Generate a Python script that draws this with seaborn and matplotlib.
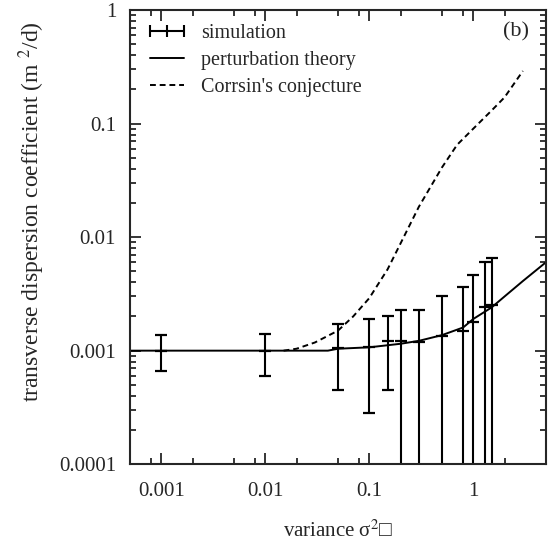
import numpy as np
import pandas as pd
import matplotlib
matplotlib.use("Agg")
import matplotlib.pyplot as plt
import matplotlib.ticker as mticker
from matplotlib.lines import Line2D
from matplotlib.legend_handler import HandlerLine2D, HandlerTuple
import seaborn as sns

# simulation results (mean and error bar ends)
sim_var = [0.001, 0.01, 0.05, 0.1, 0.15, 0.2, 0.3, 0.5, 0.8, 1.0, 1.3, 1.5]
sim_D = [0.001, 0.001, 0.00105, 0.00107, 0.00122, 0.00122, 0.0012, 0.00135, 0.00148, 0.0018, 0.0024, 0.0025]
sim_hi = [0.00137, 0.0014, 0.0017, 0.0019, 0.002, 0.0023, 0.0023, 0.003, 0.0036, 0.0046, 0.006, 0.0066]
sim_lo = [0.00066, 0.0006, 0.00045, 0.00028, 0.00045, 1e-6, 1e-6, 1e-6, 1e-6, 1e-6, 1e-6, 1e-6]

# perturbation theory
pt_var = [0.0005, 0.01, 0.04, 0.05, 0.1, 0.2, 0.3, 0.5, 0.8, 1.0, 1.5, 2.0, 3.0, 5.0]
pt_D = [0.001, 0.001, 0.001, 0.00104, 0.00107, 0.00115, 0.00122, 0.00137, 0.0016, 0.0019, 0.0024, 0.003, 0.0041, 0.006]

# Corrsin's conjecture
co_var = [0.015, 0.02, 0.03, 0.05, 0.07, 0.1, 0.15, 0.2, 0.3, 0.5, 0.7, 1.0, 1.5, 2.0, 3.0]
co_D = [0.001, 0.00104, 0.00118, 0.0015, 0.002, 0.0029, 0.0052, 0.0088, 0.0185, 0.041, 0.065, 0.09, 0.13, 0.17, 0.29]

sns.set_style("ticks")
plt.rcParams['font.family'] = ['Liberation Serif', 'DejaVu Sans']
plt.rcParams['mathtext.fontset'] = 'stix'

fig = plt.figure(figsize=(5.52, 5.52), dpi=100)
ax = fig.add_axes([0.2355, 0.159, 0.7535, 0.823])

pt = pd.DataFrame({'var': pt_var, 'D': pt_D})
co = pd.DataFrame({'var': co_var, 'D': co_D})

sim_D = np.array(sim_D)
yerr = [sim_D - np.array(sim_lo), np.array(sim_hi) - sim_D]
ax.errorbar(sim_var, sim_D, yerr=yerr, fmt='_', color='black', ms=9, mew=1.6,
            elinewidth=1.5, capsize=4, capthick=1.5)
sns.lineplot(data=pt, x='var', y='D', color='black', lw=1.4, ax=ax)
sns.lineplot(data=co, x='var', y='D', color='black', lw=1.4, ax=ax,
             linestyle=(0, (3, 2)))

ax.set_xscale('log')
ax.set_yscale('log')
ax.set_xlim(0.0005, 5)
ax.set_ylim(0.0001, 1)

ax.xaxis.set_major_locator(mticker.FixedLocator([0.001, 0.01, 0.1, 1]))
ax.xaxis.set_major_formatter(mticker.FixedFormatter(['0.001', '0.01', '0.1', '1']))
ax.xaxis.set_minor_locator(mticker.LogLocator(base=10, subs=(2, 5, 8)))
ax.xaxis.set_minor_formatter(mticker.NullFormatter())
ax.yaxis.set_major_locator(mticker.FixedLocator([0.0001, 0.001, 0.01, 0.1, 1]))
ax.yaxis.set_major_formatter(mticker.FixedFormatter(['0.0001', '0.001', '0.01', '0.1', '1']))
ax.yaxis.set_minor_locator(mticker.LogLocator(base=10, subs=np.arange(2, 10)))
ax.yaxis.set_minor_formatter(mticker.NullFormatter())

ax.tick_params(which='both', direction='in', top=True, right=True, width=1.3, labelsize=15)
ax.tick_params(which='major', length=8)
ax.tick_params(axis='x', which='major', pad=13)
ax.tick_params(axis='y', which='major', pad=10)
ax.tick_params(which='minor', length=4)
for s in ax.spines.values():
    s.set_linewidth(1.5)

ax.set_xlabel('variance σ$^2$\u25a1', fontsize=15, labelpad=14)
ax.set_ylabel('transverse dispersion coefficient (m $^2$/d)', fontsize=17)
ax.yaxis.set_label_coords(-0.2, 0.555)
ax.text(0.96, 0.952, '(b)', transform=ax.transAxes, fontsize=16, ha='right', va='center')

# gnuplot-style legend keys
sim_bar = Line2D([], [], color='black', lw=1.5, marker='|', ms=9, mew=1.5)
sim_pt = Line2D([], [], color='black', lw=0, marker='|', ms=9, mew=1.5)
pt_key = Line2D([], [], color='black', lw=1.4)
co_key = Line2D([], [], color='black', lw=1.4, linestyle=(0, (3, 2)))
ax.legend([(sim_bar, sim_pt), pt_key, co_key],
          ['simulation', 'perturbation theory', "Corrsin's conjecture"],
          handler_map={sim_pt: HandlerLine2D(numpoints=1), tuple: HandlerTuple(ndivide=1)},
          numpoints=2, loc='upper left', frameon=False, fontsize=14.5, handlelength=2.3,
          borderaxespad=0.3, labelspacing=0.4, handletextpad=0.55)

fig.savefig('out.png', dpi=100)
